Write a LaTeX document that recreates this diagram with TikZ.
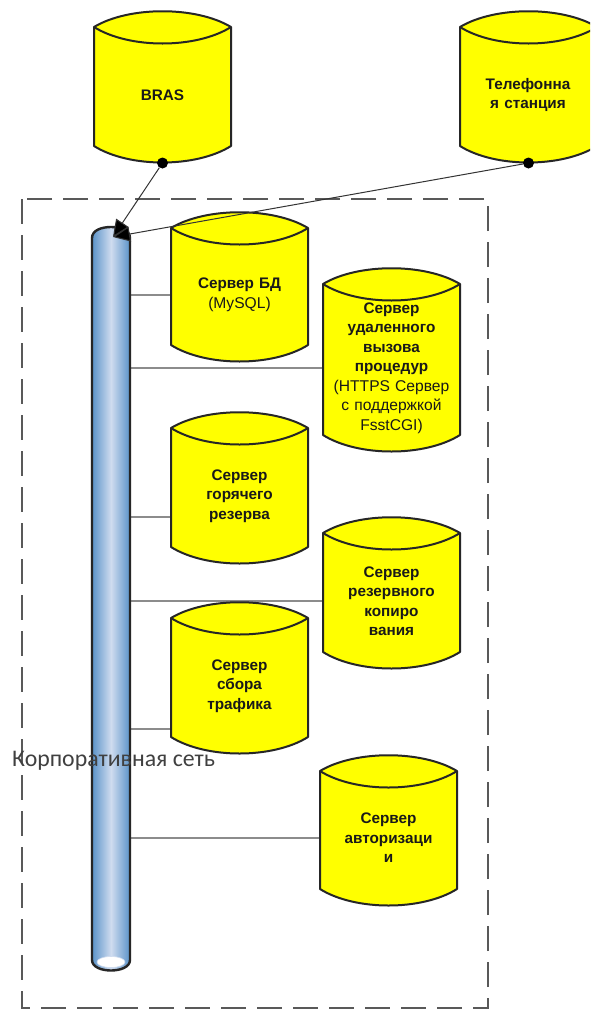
\documentclass[tikz,border=0pt]{standalone}
\usepackage{fontspec}
\setmainfont{Liberation Sans}
\newfontfamily\labelfont{Carlito}
\usetikzlibrary{arrows.meta}
\definecolor{drumyellow}{HTML}{FFFF00}
\definecolor{pipeedge}{HTML}{5B93C9}
\definecolor{pipemid}{HTML}{CFDCEF}
\newcommand{\plainnote}{\fontsize{15.6pt}{19.3pt}\selectfont\mdseries}
\tikzset{
  drumline/.style={draw=black!85,line width=2pt,fill=drumyellow,line join=round},
  drumtext/.style={align=center,font=\fontsize{15.3pt}{19.5pt}\selectfont\bfseries,text=black!90,inner sep=0pt,text width=135pt},
  link/.style={draw=black!45,line width=2.6pt},
  feed/.style={draw=black!80,line width=1pt,-{Triangle[length=17pt,width=15pt,fill=black]}},
  dot/.style={circle,fill=black,inner sep=0pt,minimum size=11pt},
  frame/.style={draw=black!65,line width=1.4pt,dash pattern=on 25pt off 11pt}
}
% name, x1, x2, top corner y, bottom corner y
\newcommand{\drumshape}[5]{%
  \path[drumline] (#2,#4) .. controls ({#2+35},{#4-21}) and ({#3-35},{#4-21}) .. (#3,#4)
    -- (#3,#5) .. controls ({#3-35},{#5+22}) and ({#2+35},{#5+22}) .. (#2,#5) -- cycle;
  \draw[drumline,fill=none] (#2,#4) .. controls ({#2+35},{#4+22}) and ({#3-35},{#4+22}) .. (#3,#4);
  \coordinate (#1-bottom) at ({(#2+#3)/2},{#5+17});
}
\begin{document}
\begin{tikzpicture}[x=1pt,y=-1pt]
\clip (0,0) rectangle (590,1010);
\fill[white] (0,0) rectangle (590,1010);

\draw[frame] (22,199) rectangle (488,1008);

% drum west points and pipe
\node[minimum width=38pt,minimum height=743pt,inner sep=0pt] (pipe) at (111,598) {};
\coordinate (bd-w) at (171,295);
\coordinate (rpc-w) at (323,368);
\coordinate (hot-w) at (171,517);
\coordinate (bak-w) at (323,601);
\coordinate (col-w) at (171,729);
\coordinate (aut-w) at (320,838);
\foreach \d in {bd,rpc,hot,bak,col,aut} \draw[link] (pipe.east |- \d-w) -- (\d-w);

% pipe
\shade[left color=pipeedge,right color=pipeedge,middle color=pipemid]
  (92,238) .. controls (92,230) and (102,227) .. (111,227) .. controls (120,227) and (130,230) .. (130,238)
  -- (130,960) .. controls (130,974) and (92,974) .. (92,960) -- cycle;
\draw[black!85,line width=2.4pt]
  (92,238) .. controls (92,230) and (102,227) .. (111,227) .. controls (120,227) and (130,230) .. (130,238)
  -- (130,960) .. controls (130,974) and (92,974) .. (92,960) -- cycle;
\fill[white,draw=pipemid,line width=0.6pt] (111,962) ellipse (14pt and 5.5pt);

\drumshape{bras}{94}{231}{27}{146}
\drumshape{tel}{460}{597}{27}{146}
\drumshape{bd}{171}{308}{228}{345}
\drumshape{rpc}{323}{460}{284}{435}
\drumshape{hot}{171}{308}{428}{547}
\drumshape{bak}{323}{460}{533}{652}
\drumshape{col}{171}{308}{618}{737}
\drumshape{aut}{320}{457}{771}{889}

\node[drumtext] (brast) at (162.5,95) {BRAS};
\node[drumtext] (telt) at (528,95) {Телефонна\\я станция};
\node[drumtext] (bdt) at (239.5,295) {Сервер БД\\{\plainnote (MySQL)}};
\node[drumtext] (rpct) at (391.5,368) {Сервер\\удаленного\\вызова\\процедур\\{\plainnote (HTTPS Сервер}\\{\plainnote с поддержкой}\\{\plainnote FsstCGI)}};
\node[drumtext] (hott) at (239.5,496) {Сервер\\горячего\\резерва};
\node[drumtext] (bakt) at (391.5,601) {Сервер\\резервного\\копиро\\вания};
\node[drumtext] (colt) at (239.5,686) {Сервер\\сбора\\трафика};
\node[drumtext] (autt) at (388.5,838) {Сервер\\авторизаци\\и};

\node[dot] (brasd) at (bras-bottom) {};
\node[dot] (teld) at (tel-bottom) {};
\coordinate (hit) at (113,237);
\draw[feed] (brasd) -- (hit);
\draw[feed] (teld) -- (hit);

\node[inner sep=0pt,anchor=west,text=black!75,font=\labelfont\fontsize{23.8pt}{26pt}\selectfont] (net) at (12,761) {Корпоративная сеть};
\end{tikzpicture}
\end{document}
